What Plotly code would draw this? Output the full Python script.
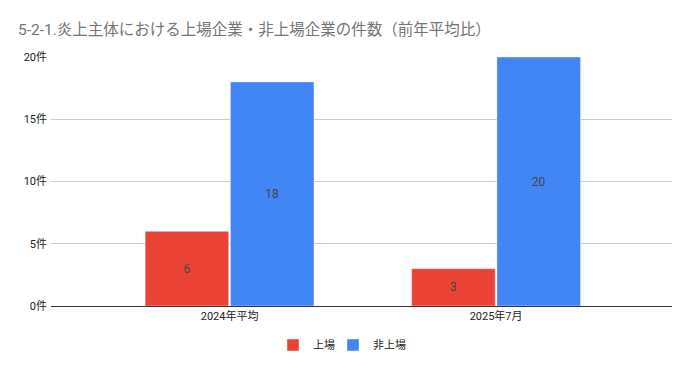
import plotly.graph_objects as go

categories = ["2024年平均", "2025年7月"]
listed = [6, 3]
unlisted = [18, 20]
series_names = ["上場", "非上場"]
tick_vals = [0, 5, 10, 15, 20]
tick_text = ["0件", "5件", "10件", "15件", "20件"]

FONT = "Roboto, 'Noto Sans CJK JP', sans-serif"

# page body has an 8px margin; figure sized to fit the 692x371 window
W, H = 676, 355

fig = go.Figure()
fig.add_trace(go.Bar(
    x=categories, y=listed, name=series_names[0],
    marker=dict(color="#ea4335"), legend="legend",
    text=listed, textposition="inside", insidetextanchor="middle",
    textfont=dict(color="#444444", size=12, family=FONT),
))
fig.add_trace(go.Bar(
    x=categories, y=unlisted, name=series_names[1],
    marker=dict(color="#4285f4"), legend="legend2",
    text=unlisted, textposition="inside", insidetextanchor="middle",
    textfont=dict(color="#444444", size=12, family=FONT),
))

legend_common = dict(orientation="h", xref="container", xanchor="left",
                     yref="container", yanchor="middle", y=1 - 337 / H,
                     font=dict(size=11, color="#222222", family=FONT),
                     itemwidth=30, bgcolor="rgba(0,0,0,0)")

fig.update_layout(
    width=W, height=H,
    margin=dict(l=43, r=12, t=49, b=57, autoexpand=False),
    paper_bgcolor="white", plot_bgcolor="white",
    font=dict(family=FONT, size=11, color="#222222"),
    barmode="group", bargap=0.36, bargroupgap=0.02,
    title=dict(text="5-2-1.炎上主体における上場企業・非上場企業の件数（前年平均比）",
               x=0, xref="container", xanchor="left",
               y=1 - 22 / H, yref="container", yanchor="middle",
               font=dict(size=15.5, color="#757575", family=FONT),
               pad=dict(l=10, t=0, b=0)),
    showlegend=True,
    legend=dict(x=(273 - 8) / W, **legend_common),
    legend2=dict(x=(333 - 8) / W, **legend_common),
)
fig.update_xaxes(
    type="category", range=[-0.67, 1.66], automargin=False,
    showgrid=False, showline=True, linecolor="#333333", linewidth=1,
    ticks="", tickfont=dict(size=11, color="#222222"),
)
fig.update_yaxes(
    range=[0, 20], tickvals=tick_vals, ticktext=tick_text, automargin=False,
    showgrid=True, gridcolor="#cccccc", gridwidth=1,
    zeroline=False, showline=False, ticks="", ticklabelstandoff=3,
    tickfont=dict(size=11, color="#222222"),
)

fig.write_html("out.html")
